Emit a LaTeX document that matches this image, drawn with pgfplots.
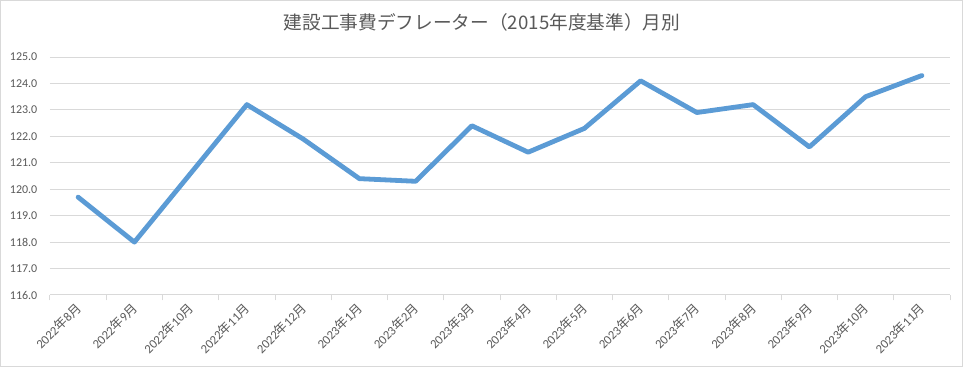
\documentclass[border=0pt]{standalone}
\usepackage{pgfplots}
\pgfplotsset{compat=1.18}
\usepackage{fontspec}
\setmainfont{Carlito}
\newfontfamily\jp{Noto Sans CJK JP}
\definecolor{linecol}{RGB}{91,155,213}
\definecolor{txt}{RGB}{89,89,89}
\definecolor{gridc}{RGB}{217,217,217}
\newcommand{\ym}[2]{#1{\jp 年}#2{\jp 月}}
\begin{document}
\begin{tikzpicture}
\useasboundingbox (-37.5pt,-54pt) rectangle (684.75pt,221.25pt);
\draw[gridc, line width=0.75pt] (-37.1pt,-53.6pt) rectangle (684.35pt,220.85pt);
\begin{axis}[
  at={(0,0)}, anchor=south west,
  scale only axis, width=675pt, height=178.5pt,
  xmin=-0.5, xmax=15.5, ymin=116, ymax=125,
  xtick={0,...,15},
  xticklabels={\ym{2022}{8},\ym{2022}{9},\ym{2022}{10},\ym{2022}{11},\ym{2022}{12},\ym{2023}{1},\ym{2023}{2},\ym{2023}{3},\ym{2023}{4},\ym{2023}{5},\ym{2023}{6},\ym{2023}{7},\ym{2023}{8},\ym{2023}{9},\ym{2023}{10},\ym{2023}{11}},
  minor xtick={-0.5,0.5,...,15.5},
  ytick={116,...,125},
  ymajorgrids, xmajorgrids=false,
  major grid style={draw=gridc, line width=0.75pt},
  axis x line=bottom, axis y line=left,
  x axis line style={draw=gridc, line width=0.75pt, -},
  y axis line style={draw=none},
  major tick length=0pt, minor tick length=4pt,
  tick align=outside,
  minor tick style={draw=gridc, line width=0.75pt},
  tick label style={font=\fontsize{9}{10}\selectfont, text=txt},
  /pgf/number format/assume math mode=true,
  yticklabel={\pgfmathprintnumber[fixed,precision=1,zerofill]{\tick}},
  yticklabel style={xshift=-6pt},
  xticklabel style={rotate=45, anchor=east, yshift=-6pt, xshift=-2pt, font=\fontsize{9.5}{10}\selectfont},
  clip=false,
]
\addplot[linecol, line width=3.6pt, line join=round, line cap=round] coordinates {
(0,119.7) (1,118.0) (2,120.6) (3,123.2) (4,121.9) (5,120.4) (6,120.3) (7,122.4)
(8,121.4) (9,122.3) (10,124.1) (11,122.9) (12,123.2) (13,121.6) (14,123.5) (15,124.3)
};
\node[text=txt, font=\jp\fontsize{14}{16}\selectfont] at (rel axis cs:0.48,1) [yshift=26pt] {建設工事費デフレーター（2015年度基準）月別};
\end{axis}
\end{tikzpicture}
\end{document}
